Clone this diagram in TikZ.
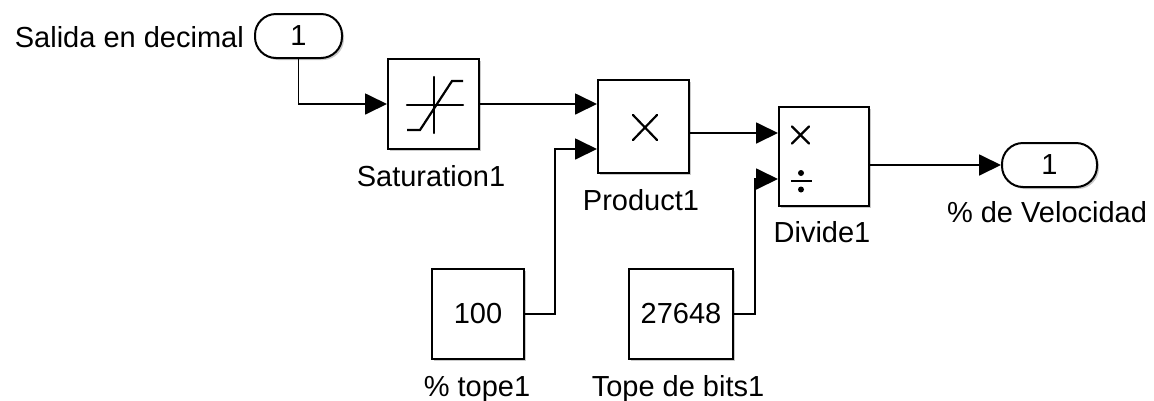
\documentclass[tikz,border=0pt]{standalone}
\usepackage{fontspec}
\setmainfont{Liberation Sans}
\usetikzlibrary{arrows.meta,shadows,calc}
\begin{document}
\begin{tikzpicture}[x=1pt,y=-1pt,
  blk/.style={draw=black,line width=2pt,fill=white,inner sep=0pt,
    drop shadow={shadow xshift=2pt,shadow yshift=-2pt,opacity=0.35,fill=black!60},
    font=\fontsize{29}{34}\selectfont},
  port/.style={blk,rounded corners=21pt,minimum height=44pt},
  lbl/.style={font=\fontsize{29}{34}\selectfont,anchor=base,inner sep=0pt},
  conn/.style={line width=1.8pt,-{Triangle[length=22pt,width=21pt]}},
  icon/.style={line width=2.2pt,line cap=round}]
\useasboundingbox (0,0) rectangle (1154,400);
% blocks
\node[port,minimum width=87pt] (inp) at (298.5,36) {1};
\node[blk,minimum width=91pt,minimum height=90pt] (sat) at (433.5,104) {};
\node[blk,minimum width=91pt,minimum height=93pt] (prod) at (643.5,126.5) {};
\node[blk,minimum width=92pt,minimum height=90pt] (c100) at (478,314) {100};
\node[blk,minimum width=104pt,minimum height=90pt] (c27) at (681,314) {27648};
\node[blk,minimum width=90pt,minimum height=99pt] (div) at (824,156.5) {};
\node[port,minimum width=95pt] (outp) at (1049.5,165) {1};
% labels
\node[lbl,anchor=base east] (linp) at (244,47) {Salida en decimal};
\node[lbl] (lsat) at (431,186) {Saturation1};
\node[lbl] (lprod) at (641,210) {Product1};
\node[lbl] (ldiv) at (822,242) {Divide1};
\node[lbl] (lout) at (1047,222) {\% de Velocidad};
\node[lbl] (l100) at (477,396) {\% tope1};
\node[lbl] (l27) at (678,396) {Tope de bits1};
% icons
\draw[icon] (434,77) -- (434,133);
\draw[icon] (407,105) -- (463,105);
\draw[icon,line cap=butt] (407,130) -- (420,130) -- (452,81) -- (463,81);
\draw[icon] (633,115) -- (657,140);
\draw[icon] (633,140) -- (657,115);
\draw[icon] (792,126.5) -- (809,143.5);
\draw[icon] (792,143.5) -- (809,126.5);
\draw[icon,line cap=butt] (791,181) -- (812,181);
\fill (801,173) circle (3pt);
\fill (801,189.5) circle (3pt);
% ports
\coordinate (p1) at ($(prod.west)+(0,-21.5)$);
\coordinate (p2) at ($(prod.west)+(0,22.5)$);
\coordinate (d1) at ($(div.west)+(0,-23.5)$);
\coordinate (d2) at ($(div.west)+(0,22.5)$);
% connectors
\draw[conn] (inp.south) |- (sat.west);
\draw[conn] (sat.east) -- (sat.east -| p1);
\draw[conn] (c100.east) -- ++(30,0) |- (p2);
\draw[conn] (prod.east |- d1) -- (d1);
\draw[conn] (c27.east) -- ++(21,0) |- (d2);
\draw[conn] (div.east |- outp.west) -- (outp.west);
\end{tikzpicture}
\end{document}
